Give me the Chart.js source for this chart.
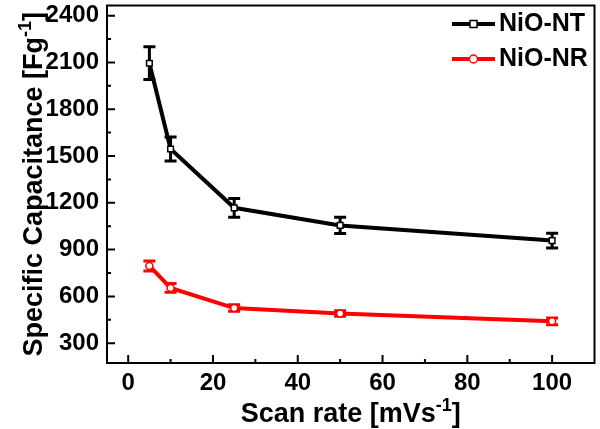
<!DOCTYPE html>
<html>
<head>
<meta charset="utf-8">
<script src="https://cdn.jsdelivr.net/npm/chart.js@4.4.1/dist/chart.umd.min.js"></script>
<style>
  body { margin: 0; background: #fff; }
  #wrap { width: 600px; height: 429px; }
</style>
</head>
<body>
<div id="wrap"><canvas id="myChart" width="600" height="429"></canvas></div>
<script>
// values
const scanRate = [5, 10, 25, 50, 100];
const ntValues = [2095, 1545, 1168, 1055, 958];
const ntErrors = [105, 77, 60, 52, 47];
const nrValues = [795, 654, 525, 490, 440];
const nrErrors = [32, 28, 21, 18, 21];

const xTicks = [0, 20, 40, 60, 80, 100];
const xMinor = [10, 30, 50, 70, 90];
const yTicks = [300, 600, 900, 1200, 1500, 1800, 2100, 2400];
const yMinor = [450, 750, 1050, 1350, 1650, 1950, 2250];

const FONT = "'Liberation Sans', Arial, sans-serif";

const toPoints = (xs, ys) => xs.map((x, i) => ({ x: x, y: ys[i] }));

// error bars, drawn under the markers
const errorBars = {
    id: 'errorBars',
    beforeDatasetsDraw(chart) {
        const ctx = chart.ctx;
        const xs = chart.scales.x, ys = chart.scales.y;
        const sets = [[ntValues, ntErrors, '#000'], [nrValues, nrErrors, '#ff0000']];
        ctx.save();
        sets.forEach(([vals, errs, col]) => {
            ctx.strokeStyle = col;
            ctx.lineWidth = 3;
            scanRate.forEach((x, i) => {
                const px = xs.getPixelForValue(x);
                const top = ys.getPixelForValue(vals[i] + errs[i]);
                const bot = ys.getPixelForValue(vals[i] - errs[i]);
                ctx.beginPath();
                ctx.moveTo(px, top); ctx.lineTo(px, bot);
                ctx.moveTo(px - 6, top); ctx.lineTo(px + 6, top);
                ctx.moveTo(px - 6, bot); ctx.lineTo(px + 6, bot);
                ctx.stroke();
            });
        });
        ctx.restore();
    }
};

// frame, inward ticks, axis titles and legend
const decor = {
    id: 'decor',
    afterDraw(chart) {
        const ctx = chart.ctx;
        const a = chart.chartArea;
        const xs = chart.scales.x, ys = chart.scales.y;
        ctx.save();
        ctx.strokeStyle = '#000';
        ctx.lineWidth = 2;
        ctx.strokeRect(a.left, a.top, a.right - a.left, a.bottom - a.top);

        ctx.beginPath();
        xTicks.forEach(v => { const p = xs.getPixelForValue(v); ctx.moveTo(p, a.bottom); ctx.lineTo(p, a.bottom - 8); });
        xMinor.forEach(v => { const p = xs.getPixelForValue(v); ctx.moveTo(p, a.bottom); ctx.lineTo(p, a.bottom - 4); });
        yTicks.forEach(v => { const p = ys.getPixelForValue(v); ctx.moveTo(a.left, p); ctx.lineTo(a.left + 8, p); });
        yMinor.forEach(v => { const p = ys.getPixelForValue(v); ctx.moveTo(a.left, p); ctx.lineTo(a.left + 4, p); });
        ctx.stroke();

        // titles with superscript
        const drawSup = (parts, x, y) => {
            ctx.textAlign = 'left';
            ctx.textBaseline = 'alphabetic';
            let total = 0;
            parts.forEach(p => { ctx.font = p.font; total += ctx.measureText(p.t).width; });
            let cx = x - total / 2;
            parts.forEach(p => {
                ctx.font = p.font;
                ctx.fillText(p.t, cx, y + (p.dy || 0));
                cx += ctx.measureText(p.t).width;
            });
        };
        const big = 'bold 27px ' + FONT, small = 'bold 18px ' + FONT;
        ctx.fillStyle = '#000';
        drawSup([{ t: 'Scan rate [mVs', font: big }, { t: '-1', font: small, dy: -11 }, { t: ']', font: big }],
            (a.left + a.right) / 2, 422);
        ctx.save();
        ctx.translate(42, (a.top + a.bottom) / 2);
        ctx.rotate(-Math.PI / 2);
        drawSup([{ t: 'Specific Capacitance [Fg', font: big }, { t: '-1', font: small, dy: -11 }, { t: ']', font: big }], 0, 0);
        ctx.restore();

        // legend
        const items = [['NiO-NT', '#000', 'rect', 24], ['NiO-NR', '#ff0000', 'circle', 59]];
        items.forEach(([label, col, shape, y]) => {
            ctx.strokeStyle = col;
            ctx.lineWidth = 4;
            ctx.beginPath(); ctx.moveTo(452, y); ctx.lineTo(495, y); ctx.stroke();
            ctx.fillStyle = '#fff';
            ctx.lineWidth = 1.5;
            ctx.beginPath();
            if (shape === 'rect') ctx.rect(470, y - 3.5, 7, 7); else ctx.arc(473.5, y, 4, 0, Math.PI * 2);
            ctx.fill(); ctx.stroke();
            ctx.fillStyle = '#000';
            ctx.font = 'bold 25px ' + FONT;
            ctx.textAlign = 'left';
            ctx.textBaseline = 'middle';
            ctx.fillText(label, 499, y);
        });
        ctx.restore();
    }
};

const tickFont = { family: FONT, size: 24, weight: 'bold' };

const ctx = document.getElementById('myChart').getContext('2d');
new Chart(ctx, {
    type: 'scatter',
    data: {
        datasets: [{
            label: 'NiO-NT',
            data: toPoints(scanRate, ntValues),
            showLine: true,
            borderColor: '#000',
            borderWidth: 4,
            pointStyle: 'rect',
            pointRadius: 4,
            pointBorderWidth: 1.5,
            pointBackgroundColor: '#fff',
            pointBorderColor: '#000'
        }, {
            label: 'NiO-NR',
            data: toPoints(scanRate, nrValues),
            showLine: true,
            borderColor: '#ff0000',
            borderWidth: 4,
            pointStyle: 'circle',
            pointRadius: 3.5,
            pointBorderWidth: 1.5,
            pointBackgroundColor: '#fff',
            pointBorderColor: '#ff0000'
        }]
    },
    options: {
        responsive: false,
        animation: false,
        layout: { padding: { top: 3, right: 4, left: 0, bottom: 0 } },
        plugins: { legend: { display: false }, tooltip: { enabled: false } },
        scales: {
            x: {
                type: 'linear',
                min: -5,
                max: 110,
                grid: { display: false, drawTicks: false },
                border: { display: false },
                ticks: { color: '#000', padding: 6, autoSkip: false, maxRotation: 0, font: tickFont, callback: v => String(v) },
                afterBuildTicks: s => { s.ticks = xTicks.map(v => ({ value: v })); },
                afterFit: s => { s.height = 66; s.paddingLeft = 0; s.paddingRight = 0; }
            },
            y: {
                type: 'linear',
                min: 173,
                max: 2465,
                grid: { display: false, drawTicks: false },
                border: { display: false },
                ticks: { color: '#000', padding: 8, autoSkip: false, font: tickFont, callback: v => String(v) },
                afterBuildTicks: s => { s.ticks = yTicks.map(v => ({ value: v })); },
                afterFit: s => { s.width = 107; s.paddingTop = 0; s.paddingBottom = 0; }
            }
        }
    },
    plugins: [errorBars, decor]
});
</script>
</body>
</html>
